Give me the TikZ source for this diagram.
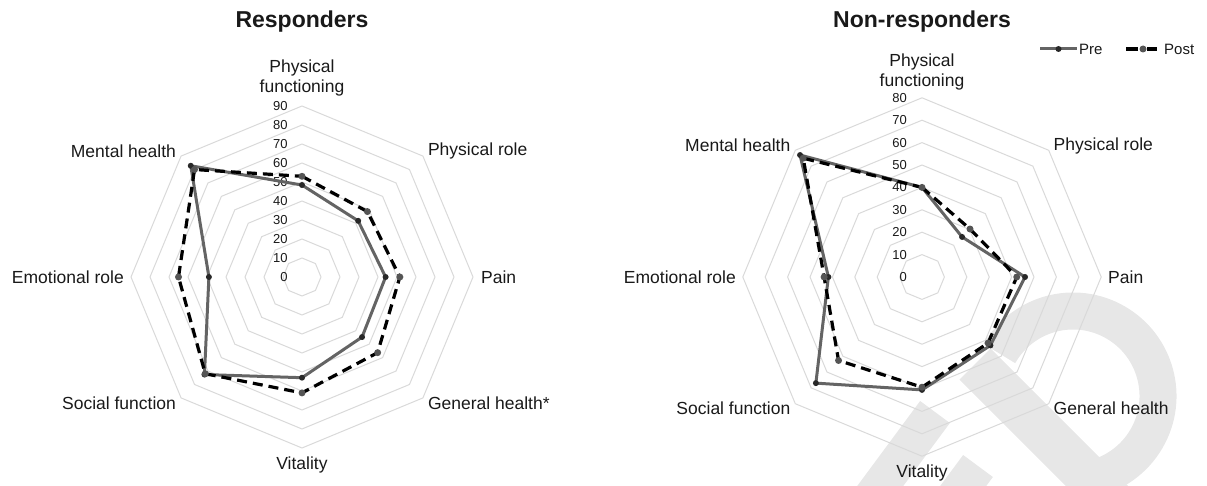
\documentclass[tikz,border=0pt]{standalone}
\usepackage{fontspec}
\setmainfont{Liberation Sans}
\usetikzlibrary{positioning,calc}

\definecolor{gridgray}{RGB}{217,217,217}
\definecolor{pregray}{RGB}{100,100,100}
\definecolor{predotc}{RGB}{40,40,40}
\definecolor{postdotc}{RGB}{85,85,85}
\definecolor{wmgray}{RGB}{231,231,231}
\definecolor{txt}{RGB}{25,25,25}

\tikzset{
  ring/.style={draw=gridgray, line width=1pt},
  preline/.style={draw=pregray, line width=3pt, line join=round},
  postline/.style={draw=black, line width=3.2pt, dash pattern=on 10pt off 6pt},
  predot/.style={fill=predotc},
  postdot/.style={fill=postdotc},
  axislabel/.style={font=\fontsize{17.5}{20}\selectfont, text=txt, inner sep=0pt},
  ticklabel/.style={font=\fontsize{13}{15}\selectfont, text=txt, inner sep=0pt, anchor=east},
  charttitle/.style={font=\fontsize{23}{27}\selectfont\bfseries, text=txt, inner sep=0pt},
  legendlabel/.style={font=\fontsize{15}{18}\selectfont, text=txt, inner sep=0pt},
  watermark/.style={draw=wmgray, line width=37pt},
}

\begin{document}
\begin{tikzpicture}[x=1pt,y=1pt]
\useasboundingbox (0,0) rectangle (1207,-486);

% watermark
\begin{scope}
\clip (0,0) rectangle (1207,-486);
\draw[watermark] (1073,-396) ++(150:85) arc[start angle=150, end angle=-80, radius=85];
\draw[watermark, line width=44pt] (975,-364) -- (1135,-524);
\draw[watermark] (935,-412) -- ++(-74,-100);
\draw[watermark] (978,-466) -- ++(-37,-50);
\end{scope}

% titles
\node[charttitle] (resptitle) at (302,-22) {Responders};
\node[charttitle] (nonresptitle) at (922,-22) {Non-responders};

% responders
\begin{scope}[shift={(302pt,-277pt)}, x=1.9pt, y=1.9pt]
\foreach \r in {10,20,...,90}
  \draw[ring] (90:\r) \foreach \a in {45,0,...,-225} { -- (\a:\r) } -- cycle;
\foreach \r in {0,10,...,90}
  \node[ticklabel] (rtick\r) at (-7.5,\r) {\r};

\foreach \a/\v [count=\i] in {90/48.4,45/41.8,0/44,-45/44.7,-90/53,-135/72.6,180/49,135/82.8}
  \coordinate (rpre\i) at (\a:\v);
\foreach \a/\v [count=\i] in {90/53,45/48.7,0/51.5,-45/56.3,-90/61,-135/72,180/65,135/80}
  \coordinate (rpost\i) at (\a:\v);

\draw[preline] (rpre1) -- (rpre2) -- (rpre3) -- (rpre4) -- (rpre5) -- (rpre6) -- (rpre7) -- (rpre8) -- cycle;
\draw[postline] (rpost1) -- (rpost2) -- (rpost3) -- (rpost4) -- (rpost5) -- (rpost6) -- (rpost7) -- (rpost8) -- cycle;
\foreach \i in {1,...,8} {
  \fill[predot] (rpre\i) circle (3pt);
  \fill[postdot] (rpost\i) circle (3.5pt);
}

\node[axislabel, align=center] (rpf) at (90:199pt) {Physical\\functioning};
\node[axislabel, anchor=west] (rpr) at (45:178pt) {Physical role};
\node[axislabel, anchor=west] (rpain) at (0:179pt) {Pain};
\node[axislabel, anchor=west] (rgh) at (-45:178pt) {General health*};
\node[axislabel] (rvit) at (-90:188pt) {Vitality};
\node[axislabel, anchor=east] (rsf) at (-135:178pt) {Social function};
\node[axislabel, anchor=east] (rer) at (180:178pt) {Emotional role};
\node[axislabel, anchor=east] (rmh) at (135:178pt) {Mental health};
\end{scope}

% non-responders
\begin{scope}[shift={(922pt,-277pt)}, x=2.24pt, y=2.24pt]
\foreach \r in {10,20,...,80}
  \draw[ring] (90:\r) \foreach \a in {45,0,...,-225} { -- (\a:\r) } -- cycle;
\foreach \r in {0,10,...,80}
  \node[ticklabel] (ntick\r) at (-6.7,\r) {\r};

\foreach \a/\v [count=\i] in {90/40,45/25.3,0/46,-45/43.2,-90/50.4,-135/67,180/41.8,135/77}
  \coordinate (npre\i) at (\a:\v);
\foreach \a/\v [count=\i] in {90/40,45/30.3,0/42.3,-45/41.7,-90/49.2,-135/52.7,180/43.7,135/75}
  \coordinate (npost\i) at (\a:\v);

\draw[preline] (npre1) -- (npre2) -- (npre3) -- (npre4) -- (npre5) -- (npre6) -- (npre7) -- (npre8) -- cycle;
\draw[postline] (npost1) -- (npost2) -- (npost3) -- (npost4) -- (npost5) -- (npost6) -- (npost7) -- (npost8) -- cycle;
\foreach \i in {1,...,8} {
  \fill[predot] (npre\i) circle (3pt);
  \fill[postdot] (npost\i) circle (3.5pt);
}

\node[axislabel, align=center] (npf) at (90:205pt) {Physical\\functioning};
\node[axislabel, anchor=west] (npr) at (45:186pt) {Physical role};
\node[axislabel, anchor=west] (npain) at (0:186pt) {Pain};
\node[axislabel, anchor=west] (ngh) at (-45:186pt) {General health};
\node[axislabel] (nvit) at (-90:196pt) {Vitality};
\node[axislabel, anchor=east] (nsf) at (-135:186pt) {Social function};
\node[axislabel, anchor=east] (ner) at (180:186pt) {Emotional role};
\node[axislabel, anchor=east] (nmh) at (135:186pt) {Mental health};
\end{scope}

% legend
\coordinate (legprea) at (1040,-49);
\coordinate (legpreb) at (1077,-49);
\coordinate (legposta) at (1126,-49);
\coordinate (legpostb) at (1157,-49);
\draw[preline] (legprea) -- (legpreb);
\fill[predot] ($(legprea)!0.5!(legpreb)$) circle (3pt);
\node[legendlabel, right=2pt of legpreb] (legpre) {Pre};
\draw[postline, dash pattern=on 12pt off 9pt] (legposta) -- (legpostb);
\fill[postdot] (1143,-49) circle (3.5pt);
\node[legendlabel, right=7pt of legpostb] (legpost) {Post};

\end{tikzpicture}
\end{document}
